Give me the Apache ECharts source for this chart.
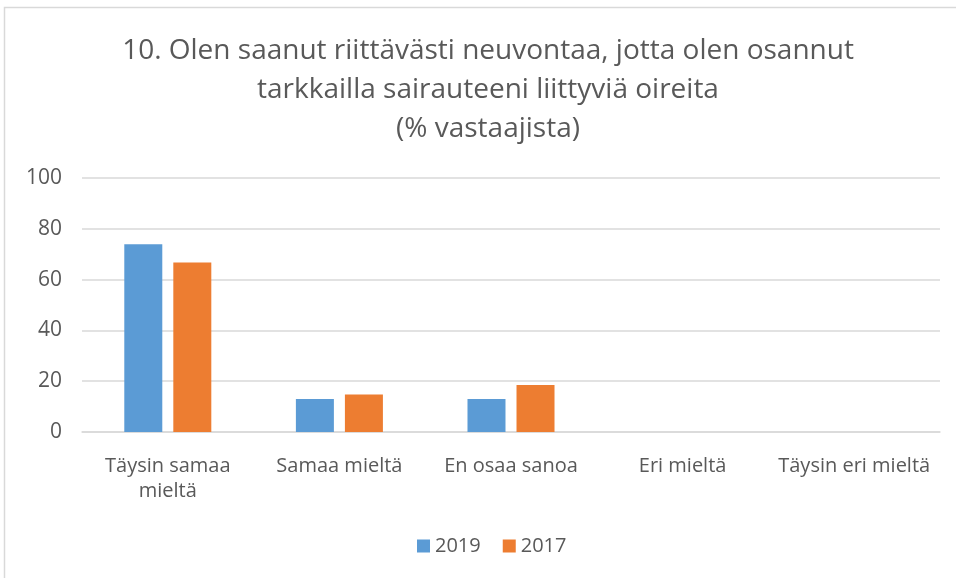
<!DOCTYPE html>
<html>
<head>
<meta charset="utf-8">
<script src="https://cdn.jsdelivr.net/npm/echarts@6/dist/echarts.min.js"></script>
<style>
  html, body { margin: 0; padding: 0; background: #fff; }
  #chart { width: 956px; height: 578px; }
</style>
</head>
<body>
<div id="chart"></div>
<script>
// data
const categories = ['Täysin samaa\nmieltä', 'Samaa mieltä', 'En osaa sanoa', 'Eri mieltä', 'Täysin eri mieltä']
const values2019 = [73.9, 13.0, 13.0, 0, 0]
const values2017 = [66.7, 14.8, 18.5, 0, 0]
const seriesNames = ['2019', '2017']
const titleLines = [
  '10. Olen saanut riittävästi neuvontaa, jotta olen osannut',
  'tarkkailla sairauteeni liittyviä oireita',
  '(% vastaajista)',
]

const chart = echarts.init(document.getElementById('chart'))
const font = '"Open Sans", sans-serif'
const textColor = '#595959'

const option = {
  animation: false,
  graphic: [
    {
      // chart frame
      type: 'rect',
      shape: { x: 4.5, y: 7.5, width: 980, height: 600 },
      style: { fill: 'none', stroke: '#d9d9d9', lineWidth: 1.5 },
      silent: true,
    },
    {
      type: 'text',
      x: 488,
      y: 32,
      style: {
        text: titleLines.join('\n'),
        textAlign: 'center',
        font: '28px ' + font,
        lineHeight: 39,
        fill: textColor,
      },
    },
  ],
  grid: {
    left: 82,
    right: 16,
    top: 178,
    bottom: 146,
  },
  legend: {
    bottom: 17,
    left: 412,
    itemWidth: 13,
    itemHeight: 13,
    itemGap: 22,
    icon: 'rect',
    textStyle: { fontSize: 20, color: textColor, fontFamily: font },
  },
  xAxis: {
    type: 'category',
    data: categories,
    axisTick: { show: false },
    axisLine: { lineStyle: { color: '#d9d9d9', width: 1.5 } },
    axisLabel: {
      interval: 0,
      margin: 22,
      fontSize: 20,
      lineHeight: 25,
      color: textColor,
      fontFamily: font,
    },
  },
  yAxis: {
    type: 'value',
    min: 0,
    max: 100,
    interval: 20,
    axisLine: { show: false },
    axisTick: { show: false },
    splitLine: { lineStyle: { color: '#d9d9d9', width: 1.5 } },
    axisLabel: { margin: 20, fontSize: 21, color: textColor, fontFamily: font },
  },
  series: [
    {
      name: seriesNames[0],
      type: 'bar',
      data: values2019,
      barWidth: 38,
      barGap: '29%',
      itemStyle: { color: '#5b9bd5' },
    },
    {
      name: seriesNames[1],
      type: 'bar',
      data: values2017,
      barWidth: 38,
      itemStyle: { color: '#ed7d31' },
    },
  ],
}

chart.setOption(option)
</script>
</body>
</html>
